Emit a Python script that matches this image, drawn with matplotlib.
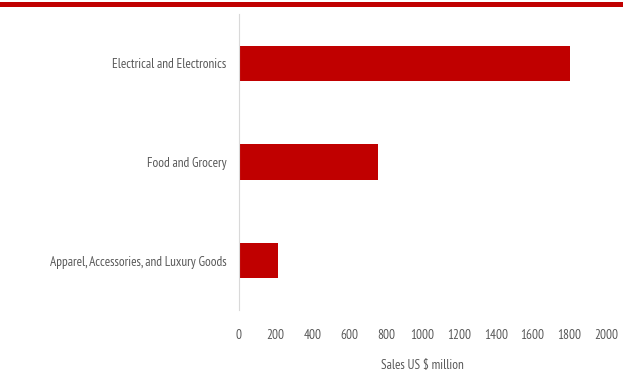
import matplotlib

matplotlib.use("Agg")
import matplotlib.pyplot as plt
from matplotlib.patches import Rectangle

categories = [
    "Apparel, Accessories, and Luxury Goods",
    "Food and Grocery",
    "Electrical and Electronics",
]
sales = [210, 755, 1805]
x_ticks = [0, 200, 400, 600, 800, 1000, 1200, 1400, 1600, 1800, 2000]

RED = "#C00000"
TEXT = "#595959"

plt.rcParams["font.family"] = ["PT Sans Narrow", "Carlito", "DejaVu Sans"]
plt.rcParams["font.weight"] = "normal"

W, H = 623, 376
fig = plt.figure(figsize=(W / 100, H / 100), dpi=100)
ax = fig.add_axes([239 / W, 1 - 310 / H, (606 - 239) / W, (310 - 14) / H])

# red rule across the top of the figure
fig.patches.append(Rectangle((0, 1 - 7 / H), 1, 5 / H, transform=fig.transFigure,
                             facecolor=RED, edgecolor="none"))

ax.barh(range(len(categories)), sales, height=0.355, color=RED)
ax.set_ylim(-0.5, len(categories) - 0.5)
ax.set_xlim(0, 2000)
ax.set_yticks(range(len(categories)))
ax.set_yticklabels(categories)
ax.set_xticks(x_ticks)
ax.tick_params(axis="both", length=0, colors=TEXT, labelsize=9.5)
ax.tick_params(axis="x", pad=14)
ax.tick_params(axis="y", pad=9)
for spine in ["top", "right", "bottom"]:
    ax.spines[spine].set_visible(False)
ax.spines["left"].set_color("#d9d9d9")
ax.set_xlabel("Sales US $ million", color=TEXT, fontsize=9.5, labelpad=12)

fig.savefig("out.png", dpi=100)
